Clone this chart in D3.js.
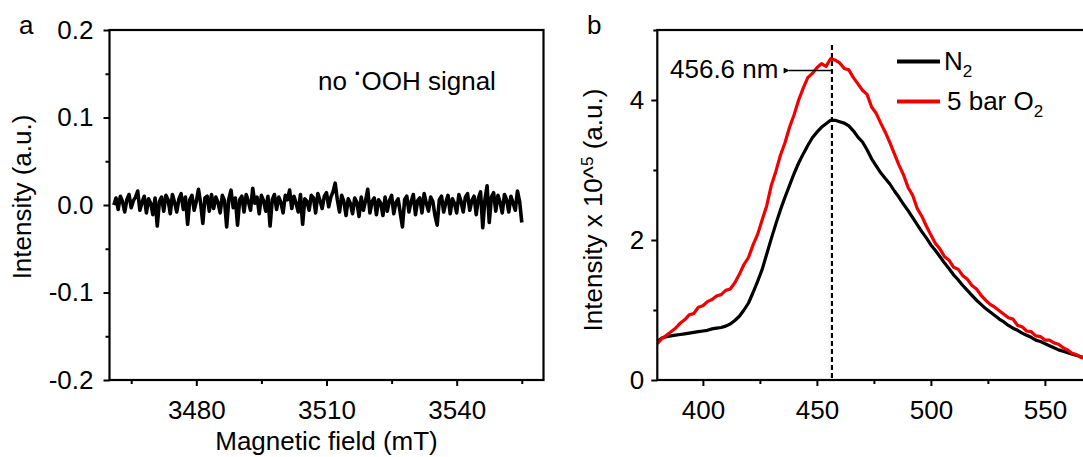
<!DOCTYPE html>
<html>
<head>
<meta charset="utf-8">
<script src="https://cdn.jsdelivr.net/npm/d3@7"></script>
<style>
  html, body { margin: 0; padding: 0; background: #fff; }
  svg { display: block; font-family: "Liberation Sans", Arial, sans-serif; }
  .tick text { font-size: 26px; fill: #000; font-family: "Liberation Sans", Arial, sans-serif; }
  .tick line { stroke: #000; stroke-width: 2; }
</style>
</head>
<body>
<svg id="fig" width="1083" height="457"></svg>
<script>
// --- Panel a: EPR trace (field in mT, intensity in units of 0.001) ---
const eprStart = 3461;
const eprStep = 0.5;
const eprSignal = [
  0, 8, -5, 10, 4, -8, 6, 12, -3, 5,
  9, 16, -6, 3, 10, -9, 7, 2, -11, 8,
  -24, 4, 9, -7, 11, 6, -10, 12, 3, -8,
  7, 13, -5, 9, -22, 6, 11, -6, 4, 18,
  2, -21, 8, 10, -7, 12, -4, 9, 3, -9,
  11, 5, -25, 7, 17, -3, 8, -23, 6, 10,
  -8, 12, 4, -6, 19, 2, 9, -10, 11, 5,
  -7, 10, -24, 6, 12, -5, 9, 3, -9, 11,
  6, 17, -4, 10, 2, -8, 12, -22, 7, 4,
  -6, 11, 8, -9, 13, 5, -4, 10, 14, -2,
  9, 15, 25, 6, -8, 11, 4, -12, 7, 2,
  -10, 8, 3, -13, 9, -6, 5, 18, -9, 4,
  8, -11, 6, 2, -12, 9, -7, 5, 11, -10,
  3, 7, -9, -25, 6, 10, -8, 4, 12, -11,
  5, 8, -9, 13, 2, -7, 9, 4, -12, -23,
  6, 10, -8, 3, 11, -10, 7, 2, -9, 12,
  4, -8, 9, 13, -6, 5, 10, -11, 8, 15,
  -26, 6, 22, -20, 9, 14, -7, 11, 3, -9,
  12, 6, -8, 10, 2, -6, 16, 4, -20
];
const aXDomain = [3460, 3560];
const aYDomain = [-0.2, 0.2];
const aXMajor = [3480, 3510, 3540];
const aXMinor = [3465, 3495, 3525, 3555];
const aYMajor = [-0.2, -0.1, 0, 0.1, 0.2];
const aYLabels = ["-0.2", "-0.1", "0.0", "0.1", "0.2"];
const aYMinor = [-0.15, -0.05, 0.05, 0.15];

// --- Panel b: PL spectra (wavelength in nm, intensity x 10^5) ---
const wavelength = [
  380, 382, 384, 386, 388, 390, 392, 394, 396, 398,
  400, 402, 404, 406, 408, 410, 412, 414, 416, 418,
  420, 422, 424, 426, 428, 430, 432, 434, 436, 438,
  440, 442, 444, 446, 448, 450, 452, 454, 456, 458,
  460, 462, 464, 466, 468, 470, 472, 474, 476, 478,
  480, 482, 484, 486, 488, 490, 492, 494, 496, 498,
  500, 502, 504, 506, 508, 510, 512, 514, 516, 518,
  520, 522, 524, 526, 528, 530, 532, 534, 536, 538,
  540, 542, 544, 546, 548, 550, 552, 554, 556, 558,
  560, 562, 564, 566, 568, 570
];
const plN2 = [
  0.55, 0.60, 0.62, 0.63, 0.64, 0.65, 0.66, 0.67, 0.68, 0.69,
  0.70, 0.71, 0.73, 0.74, 0.75, 0.77, 0.80, 0.85, 0.91, 1.00,
  1.10, 1.25, 1.41, 1.58, 1.80, 2.02, 2.23, 2.43, 2.61, 2.78,
  2.95, 3.10, 3.23, 3.35, 3.46, 3.54, 3.61, 3.66, 3.71, 3.71,
  3.69, 3.67, 3.63, 3.56, 3.47, 3.40, 3.29, 3.16, 3.06, 2.96,
  2.88, 2.80, 2.70, 2.61, 2.51, 2.42, 2.32, 2.22, 2.12, 2.03,
  1.93, 1.85, 1.76, 1.67, 1.59, 1.50, 1.43, 1.35, 1.28, 1.21,
  1.14, 1.08, 1.02, 0.97, 0.92, 0.87, 0.83, 0.78, 0.74, 0.71,
  0.67, 0.64, 0.61, 0.57, 0.55, 0.52, 0.49, 0.46, 0.43, 0.41,
  0.39, 0.37, 0.35, 0.33, 0.31, 0.30
];
const plO2 = [
  0.52, 0.59, 0.64, 0.69, 0.74, 0.81, 0.86, 0.93, 0.95, 1.04,
  1.06, 1.12, 1.15, 1.20, 1.22, 1.28, 1.30, 1.39, 1.51, 1.65,
  1.75, 1.93, 2.08, 2.29, 2.49, 2.78, 2.98, 3.21, 3.39, 3.61,
  3.79, 4.00, 4.17, 4.32, 4.38, 4.46, 4.52, 4.48, 4.59, 4.57,
  4.53, 4.45, 4.43, 4.32, 4.23, 4.14, 4.08, 3.90, 3.81, 3.67,
  3.54, 3.39, 3.23, 3.07, 2.93, 2.75, 2.64, 2.45, 2.34, 2.20,
  2.07, 1.95, 1.87, 1.76, 1.71, 1.61, 1.58, 1.49, 1.44, 1.35,
  1.30, 1.21, 1.14, 1.08, 1.04, 0.99, 0.94, 0.89, 0.87, 0.78,
  0.76, 0.70, 0.69, 0.63, 0.62, 0.57, 0.57, 0.53, 0.51, 0.46,
  0.43, 0.38, 0.36, 0.32, 0.31, 0.29
];
const peakWavelength = 456.6;
const bXDomain = [380, 570];
const bYDomain = [0, 5];
const bXMajor = [400, 450, 500, 550];
const bXMinor = [425, 475, 525];
const bYMajor = [0, 2, 4];
const bYMinor = [1, 3, 5];

const svg = d3.select("#fig");
const FS = 26;

// Draws a framed panel with outward ticks on bottom and left
function drawFrame(p, x, y, xMajor, xMinor, yMajor, yMinor, yFmt, yPad) {
  const g = svg.append("g");
  g.append("g")
    .attr("transform", `translate(0,${p.bottom})`)
    .call(d3.axisBottom(x).tickValues(xMinor).tickSize(4).tickFormat(""))
    .call(s => s.select(".domain").remove());
  g.append("g")
    .attr("transform", `translate(0,${p.bottom})`)
    .call(d3.axisBottom(x).tickValues(xMajor).tickSize(6).tickPadding(15).tickFormat(d3.format("d")))
    .call(s => s.select(".domain").remove());
  g.append("g")
    .attr("transform", `translate(${p.left},0)`)
    .call(d3.axisLeft(y).tickValues(yMinor).tickSize(4).tickFormat(""))
    .call(s => s.select(".domain").remove());
  g.append("g")
    .attr("transform", `translate(${p.left},0)`)
    .call(d3.axisLeft(y).tickValues(yMajor).tickSize(6).tickPadding(yPad).tickFormat(yFmt))
    .call(s => s.select(".domain").remove());
  g.append("rect")
    .attr("x", p.left).attr("y", p.top)
    .attr("width", p.right - p.left).attr("height", p.bottom - p.top)
    .attr("fill", "none").attr("stroke", "#000").attr("stroke-width", 2.2);
  return g;
}

// ---------------- Panel a ----------------
const pa = {left: 109.5, right: 543.5, top: 30, bottom: 380};
const xa = d3.scaleLinear().domain(aXDomain).range([pa.left, pa.right]);
const ya = d3.scaleLinear().domain(aYDomain).range([pa.bottom, pa.top]);

const eprData = eprSignal.map((v, i) => ({f: eprStart + i * eprStep, v: v / 1000}));
svg.append("path")
  .datum(eprData)
  .attr("fill", "none")
  .attr("stroke", "#000")
  .attr("stroke-width", 3.6)
  .attr("stroke-linejoin", "round")
  .attr("d", d3.line().x(d => xa(d.f)).y(d => ya(d.v)));

drawFrame(pa, xa, ya, aXMajor, aXMinor, aYMajor, aYMinor,
  d => aYLabels[aYMajor.indexOf(d)], 10);

svg.append("text").attr("x", 19).attr("y", 34).attr("font-size", FS).text("a");
svg.append("text")
  .attr("transform", `translate(31,${(pa.top + pa.bottom) / 2 - 8}) rotate(-90)`)
  .attr("text-anchor", "middle").attr("font-size", FS)
  .text("Intensity (a.u.)");
svg.append("text")
  .attr("x", (pa.left + pa.right) / 2).attr("y", 450)
  .attr("text-anchor", "middle").attr("font-size", FS)
  .text("Magnetic field (mT)");

const note = svg.append("text").attr("x", 318).attr("y", 90).attr("font-size", FS);
note.append("tspan").text("no ");
note.append("tspan").attr("dy", -9).attr("font-size", 22).attr("font-weight", "bold").text("\u00B7");
note.append("tspan").attr("dy", 9).text("OOH signal");

// ---------------- Panel b ----------------
const pb = {left: 657.3, right: 1090.5, top: 30, bottom: 380};
const xb = d3.scaleLinear().domain(bXDomain).range([pb.left, pb.right]);
const yb = d3.scaleLinear().domain(bYDomain).range([pb.bottom, pb.top]);

svg.append("clipPath").attr("id", "clipb")
  .append("rect").attr("x", pb.left).attr("y", pb.top)
  .attr("width", pb.right - pb.left).attr("height", pb.bottom - pb.top);

// dashed peak marker
svg.append("line")
  .attr("x1", xb(peakWavelength)).attr("x2", xb(peakWavelength))
  .attr("y1", 45).attr("y2", pb.bottom)
  .attr("stroke", "#000").attr("stroke-width", 2.2)
  .attr("stroke-dasharray", "5,3");

const plLine = d3.line().x(d => xb(d[0])).y(d => yb(d[1]));
const series = [
  {name: "N2", values: plN2, color: "#000"},
  {name: "O2", values: plO2, color: "#f00000"}
];
series.forEach(s => {
  svg.append("path")
    .datum(wavelength.map((w, i) => [w, s.values[i]]))
    .attr("clip-path", "url(#clipb)")
    .attr("fill", "none")
    .attr("stroke", s.color)
    .attr("stroke-width", 3.2)
    .attr("stroke-linejoin", "round")
    .attr("d", plLine);
});

drawFrame(pb, xb, yb, bXMajor, bXMinor, bYMajor, bYMinor, d3.format("d"), 7);

svg.append("text").attr("x", 587).attr("y", 34).attr("font-size", FS).text("b");
const ylb = svg.append("text")
  .attr("transform", `translate(602,${(pb.top + pb.bottom) / 2 + 5}) rotate(-90)`)
  .attr("text-anchor", "middle").attr("font-size", FS);
ylb.append("tspan").text("Intensity x 10^");
ylb.append("tspan").attr("dy", -9).attr("font-size", 17).text("5");
ylb.append("tspan").attr("dy", 9).text(" (a.u.)");

// peak annotation with arrow
svg.append("defs").append("marker")
  .attr("id", "arrowhead").attr("viewBox", "0 0 10 10")
  .attr("refX", 1).attr("refY", 5)
  .attr("markerWidth", 8).attr("markerHeight", 6)
  .attr("markerUnits", "userSpaceOnUse")
  .attr("orient", "auto")
  .append("path").attr("d", "M10,0 L0,5 L10,10 z").attr("fill", "#000");
svg.append("line")
  .attr("x1", xb(peakWavelength)).attr("x2", 789)
  .attr("y1", 70.5).attr("y2", 70.5)
  .attr("stroke", "#000").attr("stroke-width", 1.4)
  .attr("marker-end", "url(#arrowhead)");
svg.append("text").attr("x", 670).attr("y", 78).attr("font-size", FS).text("456.6 nm");

// legend
const legend = [
  {label: "N", sub: "2", color: "#000", y: 61.5, tx: 944},
  {label: "5 bar O", sub: "2", color: "#f00000", y: 101.5, tx: 947}
];
legend.forEach(l => {
  svg.append("line")
    .attr("x1", 897).attr("x2", 940).attr("y1", l.y).attr("y2", l.y)
    .attr("stroke", l.color).attr("stroke-width", 4);
  const t = svg.append("text").attr("x", l.tx).attr("y", l.y + 8.5).attr("font-size", FS);
  t.append("tspan").text(l.label);
  t.append("tspan").attr("dy", 7).attr("font-size", 17).text(l.sub);
});
</script>
</body>
</html>
